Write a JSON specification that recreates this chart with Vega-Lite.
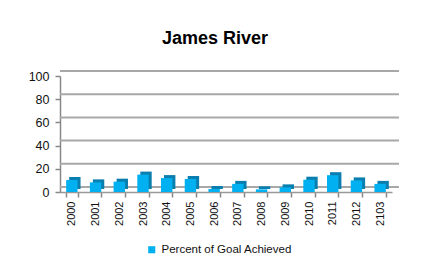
{
  "$schema": "https://vega.github.io/schema/vega-lite/v6.json",
  "width": 332,
  "height": 116,
  "autosize": "none",
  "padding": {"left": 60, "top": 76, "right": 30, "bottom": 70},
  "background": "white",
  "title": {"text": "James River", "fontSize": 18, "font": "Liberation Sans", "fontWeight": "bold", "color": "#000", "anchor": "middle", "dx": -11, "offset": 22},
  "datasets": {
    "bars": [
      {"year": "2000", "pct": 10.3, "series": "Percent of Goal Achieved"},
      {"year": "2001", "pct": 8.3, "series": "Percent of Goal Achieved"},
      {"year": "2002", "pct": 8.9, "series": "Percent of Goal Achieved"},
      {"year": "2003", "pct": 15, "series": "Percent of Goal Achieved"},
      {"year": "2004", "pct": 12, "series": "Percent of Goal Achieved"},
      {"year": "2005", "pct": 11.2, "series": "Percent of Goal Achieved"},
      {"year": "2006", "pct": 2.6, "series": "Percent of Goal Achieved"},
      {"year": "2007", "pct": 7, "series": "Percent of Goal Achieved"},
      {"year": "2008", "pct": 2.3, "series": "Percent of Goal Achieved"},
      {"year": "2009", "pct": 4, "series": "Percent of Goal Achieved"},
      {"year": "2010", "pct": 10.6, "series": "Percent of Goal Achieved"},
      {"year": "2011", "pct": 14.5, "series": "Percent of Goal Achieved"},
      {"year": "2012", "pct": 10, "series": "Percent of Goal Achieved"},
      {"year": "2103", "pct": 7, "series": "Percent of Goal Achieved"}
    ],
    "grid": [{"g": 0}, {"g": 20}, {"g": 40}, {"g": 60}, {"g": 80}, {"g": 100}]
  },
  "layer": [
    {"data": {"name": "grid"},
     "mark": {"type": "rule", "color": "#a8a8a8", "strokeWidth": 2, "xOffset": 7, "yOffset": -5},
     "encoding": {"y": {"field": "g", "type": "quantitative", "scale": {"domain": [0, 100]}, "title": null,
       "axis": {"values": [0, 20, 40, 60, 80, 100]}}}},
    {"data": {"name": "bars"},
     "mark": {"type": "bar", "color": "#0A7FAF", "xOffset": 3, "yOffset": -3},
     "encoding": {
       "x": {"field": "year", "type": "nominal", "sort": null, "title": null,
         "scale": {"paddingInner": 0.52, "paddingOuter": 0.26},
         "axis": {"labelAngle": -90}},
       "y": {"field": "pct", "type": "quantitative", "title": null, "axis": {"values": [0, 20, 40, 60, 80, 100]}}}},
    {"data": {"name": "bars"},
     "mark": {"type": "bar"},
     "encoding": {
       "x": {"field": "year", "type": "nominal", "sort": null, "title": null, "axis": {"labelAngle": -90}},
       "y": {"field": "pct", "type": "quantitative", "title": null, "axis": {"values": [0, 20, 40, 60, 80, 100]}},
       "color": {"field": "series", "type": "nominal", "scale": {"range": ["#00B0F0"]},
       "legend": {"title": null, "orient": "none", "legendX": 86, "legendY": 168, "symbolType": "square", "symbolSize": 50, "symbolStrokeWidth": 0, "labelFontSize": 11.5, "labelFont": "Liberation Sans", "labelColor": "#111"}}}}
  ],
  "config": {
    "view": {"stroke": null},
    "axisY": {"labelOverlap": false, "labelBound": false, "labelFontSize": 12.5, "labelColor": "#111", "labelFont": "Liberation Sans", "labelPadding": 6, "tickSize": 5, "tickColor": "#888", "domainColor": "#888", "domainWidth": 1.5, "tickWidth": 1.5, "grid": false},
    "axisX": {"labelOverlap": false, "labelFontSize": 11, "labelColor": "#111", "labelFont": "Liberation Sans", "labelPadding": 4, "tickBand": "extent", "tickSize": 5, "tickColor": "#888", "domainColor": "#999", "domainWidth": 1.5, "tickWidth": 1.5}
  }
}
